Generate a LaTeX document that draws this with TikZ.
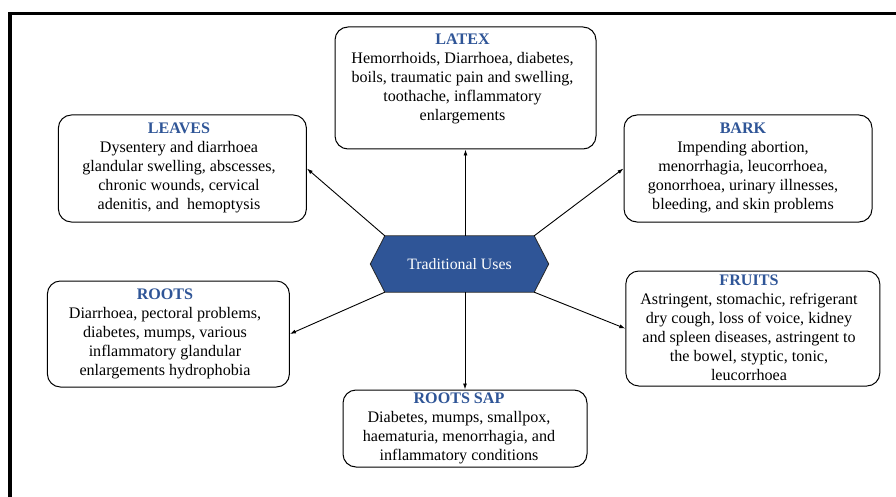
\documentclass[tikz,border=0pt]{standalone}
\usepackage{fontspec}
\setmainfont{Liberation Serif}
\usetikzlibrary{arrows.meta,backgrounds,calc}
\definecolor{hdblue}{HTML}{2F5597}
\newcommand{\ttlx}[1]{\textcolor{hdblue}{\textbf{#1}}}
\begin{document}
\begin{tikzpicture}[x=1pt,y=-1pt,
  box/.style={draw=black, line width=1pt, rounded corners=13pt, inner sep=0pt, fill=white},
  txt/.style={align=center, inner sep=0pt, font=\fontsize{16.1}{19}\selectfont},
  conn/.style={line width=0.9pt, -{Latex[length=6pt,width=4pt]}}
]
\useasboundingbox (0,0) rectangle (896,497);
% frame
\fill[black] (8,12) rectangle (896,15.5);
\fill[black] (8,12) rectangle (12,497);

% hub
\node[inner sep=0pt, minimum width=149pt, minimum height=56pt, text=white,
      font=\fontsize{15.8}{19}\selectfont] (hub) at (459.5,264) {Traditional Uses};
\begin{scope}[on background layer]
\filldraw[fill=hdblue, draw=black!85, line width=0.8pt]
  (hub.north west) -- (hub.north east) -- ($(hub.east)+(14.5,0)$) --
  (hub.south east) -- (hub.south west) -- ($(hub.west)+(-14.5,0)$) -- cycle;
\end{scope}

% boxes
\node[box, minimum width=261pt, minimum height=122pt] (latex) at (465.5,88) {};
\node[box, minimum width=248pt, minimum height=107pt] (leaves) at (182.4,168.5) {};
\node[box, minimum width=248pt, minimum height=107pt] (bark) at (748,168.5) {};
\node[box, minimum width=242pt, minimum height=106pt] (roots) at (168.4,334) {};
\node[box, minimum width=254pt, minimum height=115pt] (fruits) at (752.8,328.5) {};
\node[box, minimum width=244pt, minimum height=77pt] (sap) at (465,428.5) {};

% texts
\node[txt] (latext) at (462.5,79) {\ttlx{LATEX}\\Hemorrhoids, Diarrhoea, diabetes,\\boils, traumatic pain and swelling,\\toothache, inflammatory\\enlargements};
\node[txt] (leavest) at (179,168) {\ttlx{LEAVES}\\Dysentery and diarrhoea\\glandular swelling, abscesses,\\chronic wounds, cervical\\adenitis, and\ \ hemoptysis};
\node[txt] (barkt) at (743,168) {\ttlx{BARK}\\Impending abortion,\\menorrhagia, leucorrhoea,\\gonorrhoea, urinary illnesses,\\bleeding, and skin problems};
\node[txt] (rootst) at (165,334) {\ttlx{ROOTS}\\Diarrhoea, pectoral problems,\\diabetes, mumps, various\\inflammatory glandular\\enlargements hydrophobia};
\node[txt] (fruitst) at (749,328) {\ttlx{FRUITS}\\Astringent, stomachic, refrigerant\\dry cough, loss of voice, kidney\\and spleen diseases, astringent to\\the bowel, styptic, tonic,\\leucorrhoea};
\node[txt] (sapt) at (459,428.5) {\ttlx{ROOTS SAP}\\Diabetes, mumps, smallpox,\\haematuria, menorrhagia, and\\inflammatory conditions};

% connectors
\draw[conn] (hub.north -| latex.south) -- (latex.south);
\draw[conn] (hub.south -| sap.north) -- (sap.north);
\draw[conn] (hub.north west) -- (leaves.east);
\draw[conn] (hub.north east) -- (bark.west);
\draw[conn] (hub.south west) -- (roots.east);
\draw[conn] (hub.south east) -- (fruits.west);
\end{tikzpicture}
\end{document}
